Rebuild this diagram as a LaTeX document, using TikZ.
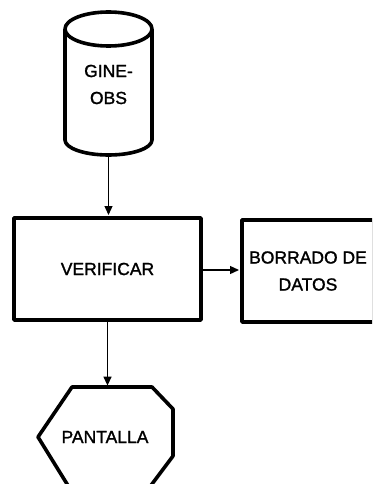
\documentclass[tikz,border=0pt]{standalone}
\usepackage{fontspec}
\setmainfont{Liberation Sans}
\newfontfamily\heavysans[FakeBold=1.4]{Liberation Sans}
\usetikzlibrary{arrows.meta}
\begin{document}
\begin{tikzpicture}[x=1pt,y=-1pt,
  outline/.style={line width=3.6pt, line join=round},
  lbl/.style={font=\heavysans\fontsize{17.5}{27}\selectfont, align=center, inner sep=0pt},
  conn/.style={line width=1.3pt, -{Triangle[length=9pt,width=8pt]}, shorten >=1.2pt}]
\useasboundingbox (0,0) rectangle (372,484);
\clip (0,0) rectangle (372,484);
% cylinder GINE-OBS
\draw[outline] (65,29) -- (65,140) arc[start angle=180,end angle=360,x radius=43.5,y radius=-15] -- (152,29);
\draw[outline] (108.5,29) ellipse[x radius=43.5, y radius=17];
\node[lbl, minimum width=87, minimum height=143] (db) at (108.5,84.5) {GINE-\\OBS};
% VERIFICAR
\node[draw, outline, lbl, minimum width=187, minimum height=102] (ver) at (107.5,269) {VERIFICAR};
% BORRADO DE DATOS
\node[draw, outline, lbl, minimum width=132, minimum height=102] (bor) at (308,271) {BORRADO DE\\DATOS};
% PANTALLA
\draw[outline] (72,387) -- (152,387) -- (173,409) -- (173,456) -- (146,492) -- (72,492) -- (38,437) -- cycle;
\node[lbl, minimum width=100, minimum height=100] (pan) at (105,437) {PANTALLA};
% connectors
\draw[conn] (db.south) -- (db.south |- ver.north);
\draw[conn] (ver.east |- 0,270) -- (bor.west |- 0,270);
\draw[conn] (ver.south) -- (ver.south |- pan.north);
\end{tikzpicture}
\end{document}
